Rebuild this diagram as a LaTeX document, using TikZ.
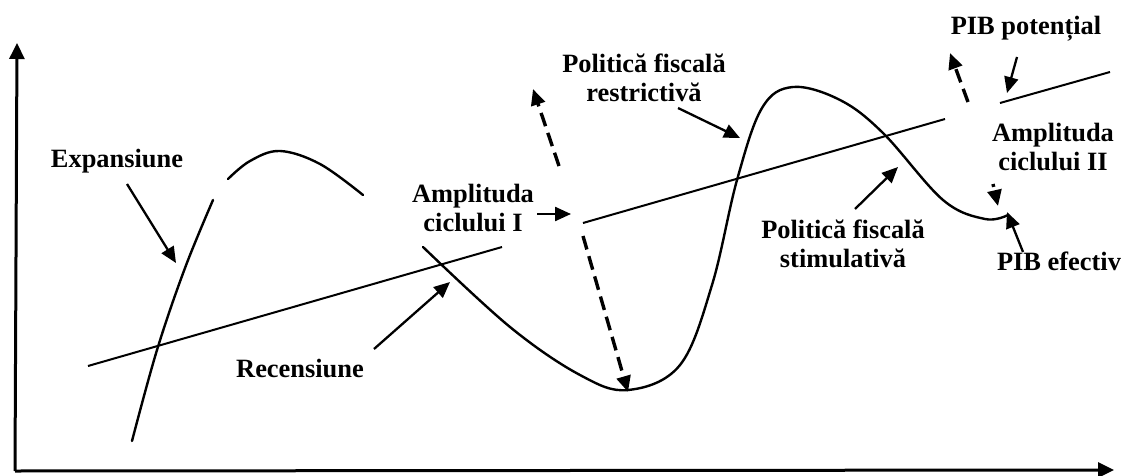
\documentclass[tikz,border=0pt]{standalone}
\usepackage{fontspec}
\setmainfont{Liberation Serif}
\usetikzlibrary{arrows.meta}
\usetikzlibrary{positioning}

\begin{document}
\begin{tikzpicture}[x=1pt,y=-1pt,
  lbl/.style={font=\bfseries\fontsize{26.4}{29}\selectfont, inner sep=0pt, align=center},
  ptr/.style={line width=2.3pt, -{Triangle[length=16pt,width=14pt]}},
  dptr/.style={line width=3.4pt, dash pattern=on 14pt off 7pt, -{Triangle[length=16pt,width=14pt]}},
  axis/.style={line width=3pt, -{Triangle[length=16pt,width=15pt]}},
  pib/.style={line width=2.4pt, line cap=round},
  pot/.style={line width=2pt}]
\useasboundingbox (0,0) rectangle (1126,476);
% axes
\coordinate (O) at (15,471);
\coordinate (ytop) at (17,43);
\coordinate (xend) at (1114,470);
\draw[axis] (O) -- (ytop);
\draw[axis] (O) -- (xend);
% PIB potential
\coordinate (p1) at (88,366);
\coordinate (p2) at (502,247);
\coordinate (p3) at (583,223);
\coordinate (p4) at (945,119);
\coordinate (p5) at (1000,103);
\coordinate (p6) at (1110,72);
\draw[pot] (p1) -- (p2);
\draw[pot] (p3) -- (p4);
\draw[pot] (p5) -- (p6);
% PIB efectiv
\draw[pib] plot[smooth, tension=0.6] coordinates {(132,441) (157,350) (185,268) (213,200)};
\draw[pib] plot[smooth, tension=0.6] coordinates {(228,179) (250,161) (280,151) (320,164) (363,195)};
\draw[pib] plot[smooth, tension=0.6] coordinates {(423,247) (510,327) (580,375) (628,390)
  (680,365) (712,285) (737,180) (762,108) (793,87) (840,100) (883,133) (943,200)
  (985,219) (1008,215)};
% labels
\node[lbl, anchor=base] (exp) at (117,167) {Expansiune};
\node[lbl, anchor=base] (rec) at (300,377) {Recensiune};
\node[lbl] (amp1) at (473,208) {Amplituda\\ciclului I};
\node[lbl] (restr) at (644,78) {Politică fiscală\\restrictivă};
\node[lbl] (stim) at (843,244) {Politică fiscală\\stimulativă};
\node[lbl, anchor=base] (pot) at (1026,35) {PIB potențial};
\node[lbl] (amp2) at (1053,147) {Amplituda\\ciclului II};
\node[lbl, anchor=base] (ef) at (1059,270) {PIB efectiv};
% pointers
\coordinate (expA) at (127,184);  \coordinate (expB) at (176,263);
\coordinate (recA) at (374,349);  \coordinate (recB) at (450,282);
\coordinate (ampA) at (537,214);  \coordinate (ampB) at (571,214);
\coordinate (resA) at (678,108);  \coordinate (resB) at (740,138);
\coordinate (stiA) at (855,209);  \coordinate (stiB) at (898,167);
\coordinate (potA) at (1017,57);  \coordinate (potB) at (1007,93);
\coordinate (efA) at (1023,252);  \coordinate (efB) at (1007,212);
\draw[ptr] (expA) -- (expB);
\draw[ptr] (recA) -- (recB);
\draw[ptr] (ampA) -- (ampB);
\draw[ptr] (resA) -- (resB);
\draw[ptr] (stiA) -- (stiB);
\draw[ptr] (potA) -- (potB);
\draw[ptr] (efA) -- (efB);
% amplitudes
\coordinate (up1A) at (559,166);  \coordinate (up1B) at (533,89);
\coordinate (dn1A) at (583,236);  \coordinate (dn1B) at (628,392);
\coordinate (up2A) at (968,102);  \coordinate (up2B) at (950,53);
\coordinate (dn2A) at (993,184);  \coordinate (dn2B) at (998,206);
\draw[dptr] (up1A) -- (up1B);
\draw[dptr] (dn1A) -- (dn1B);
\draw[dptr] (up2A) -- (up2B);
\draw[dptr, dash pattern=on 3pt off 5pt] (dn2A) -- (dn2B);
\end{tikzpicture}
\end{document}
